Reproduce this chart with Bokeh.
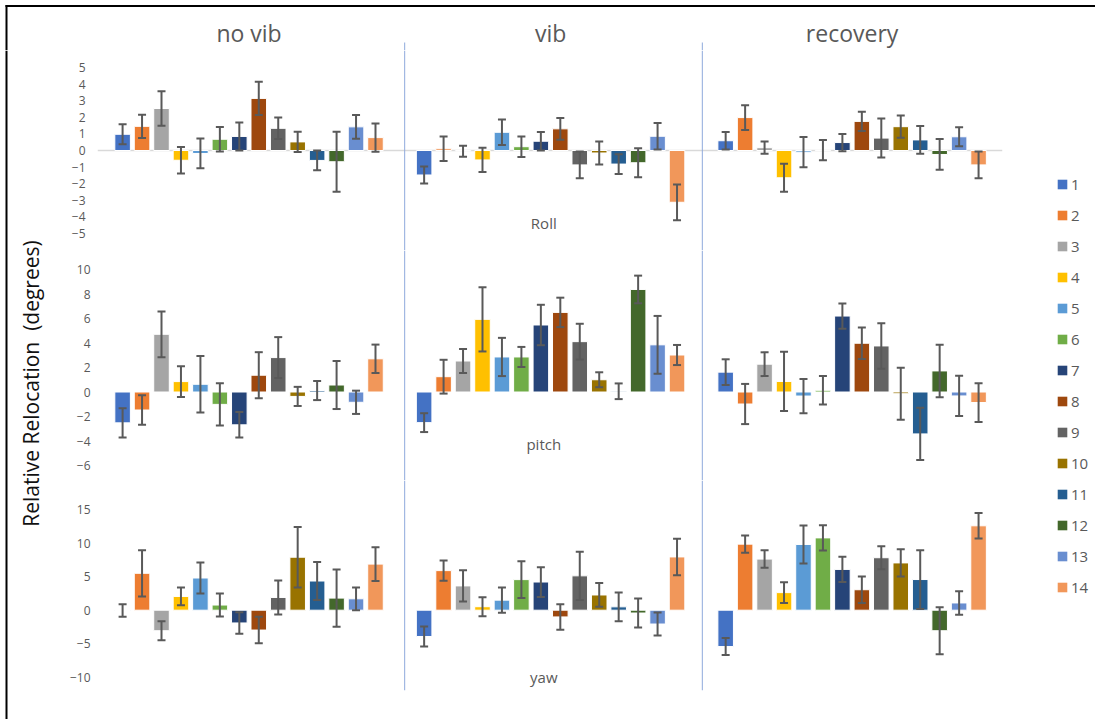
import math

from bokeh.core.properties import value
from bokeh.embed import file_html
from bokeh.layouts import column, row
from bokeh.models import (BoxAnnotation, ColumnDataSource, FixedTicker, Legend,
                          LegendItem, Range1d, Span, TeeHead, Whisker)
from bokeh.plotting import figure
from bokeh.resources import INLINE

# ---------------------------------------------------------------- data
subjects = ["1", "2", "3", "4", "5", "6", "7", "8", "9", "10", "11", "12", "13", "14"]
conditions = ["no vib", "vib", "recovery"]
axes_names = ["Roll", "pitch", "yaw"]

colors = ["#4472C4", "#ED7D31", "#A5A5A5", "#FFC000", "#5B9BD5", "#70AD47", "#264478",
          "#9E480E", "#636363", "#997300", "#255E91", "#43682B", "#698ED0", "#F1975A"]

# Roll (degrees): mean and error per subject
roll_no_vib = [0.98, 1.46, 2.54, -0.59, -0.18, 0.68, 0.85, 3.15, 1.34, 0.52, -0.6, -0.68, 1.43, 0.78]
roll_no_vib_err = [0.6, 0.7, 1.04, 0.8, 0.9, 0.74, 0.85, 1.0, 0.65, 0.61, 0.6, 1.82, 0.72, 0.85]
roll_vib = [-1.48, 0.1, -0.05, -0.57, 1.1, 0.23, 0.56, 1.31, -0.87, -0.15, -0.82, -0.74, 0.86, -3.13]
roll_vib_err = [0.52, 0.74, 0.33, 0.73, 0.77, 0.62, 0.56, 0.66, 0.81, 0.69, 0.6, 0.87, 0.8, 1.08]
roll_recovery = [0.59, 1.99, 0.17, -1.65, -0.1, 0.02, 0.48, 1.76, 0.75, 1.44, 0.64, -0.24, 0.83, -0.87]
roll_recovery_err = [0.53, 0.75, 0.37, 0.85, 0.92, 0.61, 0.52, 0.58, 1.18, 0.67, 0.84, 0.93, 0.57, 0.81]

# Pitch (degrees)
pitch_no_vib = [-2.52, -1.47, 4.71, 0.85, 0.63, -1.01, -2.68, 1.37, 2.81, -0.36, 0.12, 0.57, -0.84, 2.71]
pitch_no_vib_err = [1.2, 1.2, 1.87, 1.25, 2.3, 1.72, 1.04, 1.88, 1.67, 0.78, 0.78, 1.96, 0.95, 1.16]
pitch_vib = [-2.5, 1.25, 2.53, 5.93, 2.86, 2.86, 5.47, 6.5, 4.11, 1.0, 0.06, 8.37, 3.85, 3.02]
pitch_vib_err = [0.77, 1.38, 0.98, 2.62, 1.56, 0.82, 1.65, 1.2, 1.46, 0.61, 0.64, 1.13, 2.36, 0.82]
pitch_recovery = [1.62, -0.98, 2.27, 0.86, -0.33, 0.14, 6.2, 3.98, 3.76, -0.14, -3.42, 1.72, -0.32, -0.86]
pitch_recovery_err = [1.05, 1.64, 0.97, 2.42, 1.4, 1.16, 1.03, 1.28, 1.86, 2.12, 2.13, 2.14, 1.64, 1.58]

# Yaw (degrees)
yaw_no_vib = [-0.05, 5.5, -3.06, 2.05, 4.8, 0.77, -1.9, -2.96, 1.9, 7.9, 4.35, 1.8, 1.7, 6.87]
yaw_no_vib_err = [0.93, 3.44, 1.42, 1.32, 2.32, 1.72, 1.6, 1.97, 2.54, 4.5, 2.84, 4.28, 1.69, 2.5]
yaw_vib = [-3.92, 5.9, 3.62, 0.52, 1.5, 4.56, 4.2, -1.0, 5.12, 2.27, 0.5, -0.42, -2.06, 7.94]
yaw_vib_err = [1.5, 1.52, 2.34, 1.42, 1.87, 2.74, 2.22, 1.9, 3.59, 1.77, 2.14, 2.17, 1.72, 2.72]
yaw_recovery = [-5.42, 9.85, 7.62, 2.62, 9.8, 10.78, 6.08, 3.05, 7.82, 7.05, 4.57, -3.06, 1.08, 12.58]
yaw_recovery_err = [1.27, 1.27, 1.3, 1.55, 2.84, 1.87, 1.87, 1.97, 1.7, 2.04, 4.38, 3.5, 1.74, 1.9]

roll_ticks = [-5, -4, -3, -2, -1, 0, 1, 2, 3, 4, 5]
pitch_ticks = [-6, -4, -2, 0, 2, 4, 6, 8, 10]
yaw_ticks = [-10, -5, 0, 5, 10, 15]

# ---------------------------------------------------------------- layout
FONT = "Open Sans"
GREY_TEXT = "#595959"
ERR_COLOR = "#595959"
SEP_COLOR = "#8FAADC"

GROUP_STEP = 15.5          # x distance between condition groups
BAR_WIDTH = 0.8
X_START, X_END = -1.29, 45.23
FRAME_LEFT_PX = 97
FRAME_W = 905
PX_PER_UNIT = FRAME_W / (X_END - X_START)
SEP_X = [GROUP_STEP - 1.0, 2 * GROUP_STEP - 1.2]   # group separators

MID_W = 960
LEFT_W = 55
LEG_W = 80
HEADER_H = 50
SEP_TOP = 42               # separators start this far from the top


def panel(height, y_range, ticks, standoff, bottom=0):
    p = figure(width=MID_W, height=height, x_range=Range1d(X_START, X_END),
               y_range=Range1d(*y_range), output_backend="svg", toolbar_location=None,
               x_axis_location=None, min_border_left=FRAME_LEFT_PX - LEFT_W,
               min_border_right=MID_W - (FRAME_LEFT_PX - LEFT_W) - FRAME_W,
               min_border_top=0, min_border_bottom=bottom)
    p.outline_line_color = None
    p.grid.visible = False
    p.background_fill_color = None
    p.border_fill_color = None
    ax = p.yaxis[0]
    ax.ticker = FixedTicker(ticks=ticks)
    ax.axis_line_color = None
    ax.major_tick_line_color = None
    ax.minor_tick_line_color = None
    ax.major_tick_out = 0
    ax.major_tick_in = 0
    ax.major_label_standoff = standoff
    ax.major_label_text_font = FONT
    ax.major_label_text_font_size = "12px"
    ax.major_label_text_color = GREY_TEXT
    for sx in SEP_X:
        p.add_layout(Span(location=sx, dimension="height", line_color=SEP_COLOR, line_width=1))
    return p


def draw_group(p, c, means, errs):
    xs = [c * GROUP_STEP + i for i in range(len(subjects))]
    src = ColumnDataSource(dict(
        x=xs, top=means,
        lower=[m - e for m, e in zip(means, errs)],
        upper=[m + e for m, e in zip(means, errs)],
        color=colors,
    ))
    p.vbar(x="x", top="top", bottom=0, width=BAR_WIDTH, source=src,
           fill_color="color", line_color="white", line_width=1)
    p.add_layout(Whisker(source=src, base="x", lower="lower", upper="upper",
                         line_color=ERR_COLOR, line_width=2, level="annotation",
                         lower_head=TeeHead(size=8, line_color=ERR_COLOR, line_width=2),
                         upper_head=TeeHead(size=8, line_color=ERR_COLOR, line_width=2)))


def row_label(p, text, y):
    p.text(x=[GROUP_STEP + 6.15], y=[y], text=[text], text_align="center",
           text_baseline="middle", text_font=value(FONT), text_font_size="15px",
           text_color=GREY_TEXT)


# Roll row
p_roll = panel(250 - HEADER_H, (-6.046, 6.046), roll_ticks, 12)
p_roll.add_layout(Span(location=0, dimension="width", line_color="#D9D9D9",
                       line_width=1.5, level="underlay"))
for c, (m, e) in enumerate([(roll_no_vib, roll_no_vib_err), (roll_vib, roll_vib_err),
                            (roll_recovery, roll_recovery_err)]):
    draw_group(p_roll, c, m, e)
row_label(p_roll, axes_names[0], -4.38)

# Pitch row
p_pitch = panel(230, (-7.224, 11.551), pitch_ticks, 7)
for c, (m, e) in enumerate([(pitch_no_vib, pitch_no_vib_err), (pitch_vib, pitch_vib_err),
                            (pitch_recovery, pitch_recovery_err)]):
    draw_group(p_pitch, c, m, e)
row_label(p_pitch, axes_names[1], -4.23)

# Yaw row (extra bottom margin below the frame)
p_yaw = panel(239, (-11.971, 19.335), yaw_ticks, 7, bottom=29)
for c, (m, e) in enumerate([(yaw_no_vib, yaw_no_vib_err), (yaw_vib, yaw_vib_err),
                            (yaw_recovery, yaw_recovery_err)]):
    draw_group(p_yaw, c, m, e)
row_label(p_yaw, axes_names[2], -10.0)

# Header with the condition titles, on the same horizontal scale as the panels
hx0 = X_START - FRAME_LEFT_PX / PX_PER_UNIT
hx1 = X_START + (1095 - FRAME_LEFT_PX) / PX_PER_UNIT


def hx(px):
    return hx0 + px / PX_PER_UNIT


header = figure(width=1095, height=HEADER_H, x_range=Range1d(hx0, hx1),
                y_range=Range1d(0, HEADER_H), output_backend="svg", toolbar_location=None,
                x_axis_location=None, y_axis_location=None, min_border=0)
header.outline_line_color = None
header.grid.visible = False
header.text(x=[c * GROUP_STEP + 6.5 for c in range(3)], y=[HEADER_H - 32] * 3, text=conditions,
            text_align="center", text_baseline="middle", text_font=value(FONT),
            text_font_size="23px", text_color=GREY_TEXT)
# outer frame: top and left edges
header.add_layout(BoxAnnotation(left=hx(5), right=None, bottom=HEADER_H - 6.5,
                                top=HEADER_H - 4.5, fill_color="black", fill_alpha=1,
                                line_color=None))
header.add_layout(BoxAnnotation(left=hx(5), right=hx(7), bottom=0, top=HEADER_H - 4.5,
                                fill_color="black", fill_alpha=1, line_color=None))
# upper ends of the group separators
for sx in SEP_X:
    header.add_layout(BoxAnnotation(left=sx - 0.5 / PX_PER_UNIT, right=sx + 0.5 / PX_PER_UNIT,
                                    bottom=0, top=HEADER_H - SEP_TOP, fill_color=SEP_COLOR,
                                    fill_alpha=1, line_color=None))

# Left strip with the vertical axis title
body_h = 719 - HEADER_H
left = figure(width=LEFT_W, height=body_h, x_range=Range1d(0, LEFT_W),
              y_range=Range1d(0, body_h), output_backend="svg", toolbar_location=None,
              x_axis_location=None, y_axis_location=None, min_border=0)
left.outline_line_color = None
left.grid.visible = False
left.text(x=[30], y=[body_h - (383 - HEADER_H)], text=["Relative Relocation\u00a0 (degrees)"],
          angle=math.pi / 2, text_align="center", text_baseline="middle",
          text_font=value(FONT), text_font_size="21px", text_color="#111111")
left.add_layout(BoxAnnotation(left=5, right=7, bottom=None, top=None,
                              fill_color="black", fill_alpha=1, line_color=None))

# Right strip with the subject legend
n = len(subjects)
item_h, gap = 20, 11
legend_h = n * item_h + (n - 1) * gap
legend_top = 184 - HEADER_H - item_h / 2
legf = figure(width=LEG_W, height=body_h, x_range=Range1d(0, 1), y_range=Range1d(0, 1),
              output_backend="svg", toolbar_location=None, x_axis_location=None,
              y_axis_location=None, min_border=0)
legf.outline_line_color = None
legf.grid.visible = False
items = []
for name, col in zip(subjects, colors):
    # zero-height bar, only used as the legend swatch
    r = legf.vbar(x=[0.5], top=[0], bottom=[0], width=0.1, fill_color=col, line_color=None)
    items.append(LegendItem(label=name, renderers=[r]))
legend = Legend(items=items, location=(41, body_h - legend_top - legend_h), margin=0,
                padding=0, spacing=gap, glyph_width=12, glyph_height=12, label_standoff=3,
                label_height=item_h, label_text_font=FONT, label_text_font_size="15px",
                label_text_color=GREY_TEXT, border_line_color=None,
                background_fill_alpha=0)
legf.add_layout(legend)

layout = column(header, row(left, column(p_roll, p_pitch, p_yaw), legf))

with open("out.html", "w") as f:
    f.write(file_html(layout, INLINE))
